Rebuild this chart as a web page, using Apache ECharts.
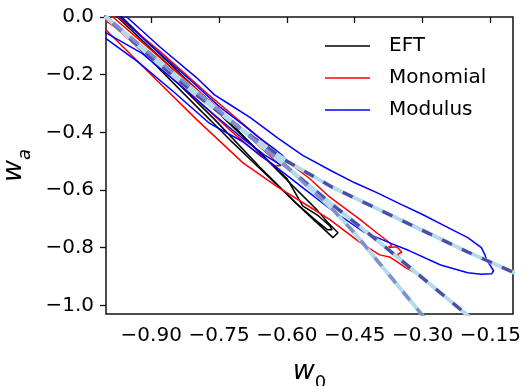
<!DOCTYPE html>
<html>
<head>
<meta charset="utf-8">
<script src="https://cdn.jsdelivr.net/npm/echarts@6/dist/echarts.min.js"></script>
<style>
  html, body { margin: 0; padding: 0; background: #fff; }
  #chart { width: 526px; height: 386px; }
</style>
</head>
<body>
<div id="chart"></div>
<script>
// Tick positions
const w0Ticks = [-0.90, -0.75, -0.60, -0.45, -0.30, -0.15];
const waTicks = [0.0, -0.2, -0.4, -0.6, -0.8, -1.0];

// Model names
const models = ['EFT', 'Monomial', 'Modulus'];

// Confidence contours, [w0, wa] pairs (closed loops)
const eft95 = [
  [-1.03, 0.05], [-0.998, 0.0], [-0.90, -0.152], [-0.80, -0.31], [-0.726, -0.426],
  [-0.65, -0.54], [-0.56, -0.675], [-0.498, -0.765], [-0.487, -0.748],
  [-0.51, -0.712], [-0.534, -0.668], [-0.60, -0.565], [-0.688, -0.426],
  [-0.78, -0.28], [-0.88, -0.13], [-0.965, 0.0], [-1.0, 0.06], [-1.03, 0.05]
];
const eft68 = [
  [-1.0, 0.05], [-0.975, 0.0], [-0.88, -0.14], [-0.78, -0.29], [-0.68, -0.44],
  [-0.60, -0.56], [-0.565, -0.655], [-0.53, -0.69], [-0.505, -0.725], [-0.50, -0.738],
  [-0.51, -0.738], [-0.54, -0.70], [-0.58, -0.645], [-0.66, -0.52], [-0.76, -0.355],
  [-0.86, -0.20], [-0.96, -0.05], [-1.03, 0.03], [-1.0, 0.05]
];
const mono95 = [
  [-1.0, 0.05], [-0.973, 0.0], [-0.88, -0.12], [-0.78, -0.26], [-0.675, -0.40],
  [-0.60, -0.50], [-0.55, -0.56], [-0.505, -0.625], [-0.44, -0.70], [-0.40, -0.75],
  [-0.373, -0.783], [-0.368, -0.792], [-0.377, -0.80], [-0.357, -0.797],
  [-0.346, -0.815], [-0.356, -0.824], [-0.345, -0.845], [-0.317, -0.886],
  [-0.335, -0.872], [-0.357, -0.848], [-0.373, -0.832], [-0.395, -0.825],
  [-0.44, -0.78], [-0.505, -0.703], [-0.543, -0.665], [-0.62, -0.59],
  [-0.697, -0.506], [-0.80, -0.355], [-0.90, -0.20], [-1.0, -0.045],
  [-1.04, 0.01], [-1.0, 0.05]
];
const mono68 = [
  [-1.02, 0.04], [-0.985, 0.0], [-0.90, -0.115], [-0.80, -0.25], [-0.72, -0.36],
  [-0.66, -0.45], [-0.628, -0.495], [-0.612, -0.515], [-0.625, -0.517],
  [-0.66, -0.48], [-0.72, -0.40], [-0.80, -0.285], [-0.90, -0.145],
  [-0.98, -0.035], [-1.03, 0.02], [-1.02, 0.04]
];
const mod95 = [
  [-1.01, 0.06], [-0.954, 0.0], [-0.88, -0.105], [-0.80, -0.21], [-0.76, -0.27],
  [-0.73, -0.30], [-0.68, -0.35], [-0.62, -0.42], [-0.565, -0.48], [-0.50, -0.535],
  [-0.45, -0.575], [-0.40, -0.61], [-0.35, -0.648], [-0.30, -0.685], [-0.25, -0.725],
  [-0.20, -0.765], [-0.17, -0.80], [-0.162, -0.825], [-0.158, -0.845],
  [-0.15, -0.862], [-0.143, -0.88], [-0.147, -0.89], [-0.17, -0.892],
  [-0.20, -0.887], [-0.26, -0.86], [-0.33, -0.81], [-0.37, -0.785], [-0.43, -0.745],
  [-0.505, -0.665], [-0.55, -0.61], [-0.62, -0.525], [-0.70, -0.43], [-0.77, -0.37],
  [-0.85, -0.26], [-0.93, -0.155], [-1.0, -0.075], [-1.05, -0.02], [-1.01, 0.06]
];
const mod68 = [
  [-1.02, 0.06], [-0.969, 0.0], [-0.90, -0.10], [-0.82, -0.21], [-0.75, -0.31],
  [-0.70, -0.37], [-0.66, -0.42], [-0.63, -0.455], [-0.61, -0.48], [-0.60, -0.50],
  [-0.603, -0.508], [-0.615, -0.512], [-0.65, -0.478], [-0.70, -0.418],
  [-0.76, -0.34], [-0.84, -0.232], [-0.92, -0.126], [-1.0, -0.055], [-1.05, 0.0],
  [-1.02, 0.06]
];

// Model trajectories in the (w0, wa) plane
const track1 = [
  [-1.02, 0.03], [-1.0, 0.0], [-0.9, -0.14], [-0.8, -0.27], [-0.7, -0.39], [-0.6, -0.50],
  [-0.5, -0.59], [-0.4, -0.665], [-0.3, -0.74], [-0.2, -0.815], [-0.1, -0.885], [-0.05, -0.92]
];
const track2 = [
  [-1.02, 0.03], [-1.0, 0.0], [-0.9, -0.135], [-0.8, -0.265], [-0.7, -0.39], [-0.6, -0.52],
  [-0.5, -0.65], [-0.4, -0.775], [-0.3, -0.905], [-0.2, -1.035], [-0.15, -1.1]
];
const track3 = [
  [-1.02, 0.03], [-1.0, 0.0], [-0.9, -0.13], [-0.8, -0.26], [-0.7, -0.39], [-0.6, -0.52],
  [-0.5, -0.665], [-0.45, -0.75], [-0.4, -0.845], [-0.35, -0.94], [-0.3, -1.035], [-0.27, -1.09]
];

const FONT = 'DejaVu Sans';
const fmt = (v, d) => (v < -1e-9 ? '\u2212' : '') + Math.abs(v).toFixed(d);

function contour(name, color, data) {
  return {
    name: name, type: 'line', data: data, symbol: 'none', smooth: false,
    clip: true, z: 3, silent: true,
    lineStyle: { color: color, width: 1.5 },
    itemStyle: { color: color }
  };
}
function track(data, dark) {
  return [
    {
      type: 'line', data: data, symbol: 'none', clip: true, z: 5, silent: true,
      lineStyle: { color: '#b3dbea', width: 4, type: 'solid', cap: 'butt' }
    },
    {
      type: 'line', data: data, symbol: 'none', clip: true, z: 6, silent: true,
      lineStyle: { color: dark, width: 3.4, type: [11, 11], cap: 'butt' }
    }
  ];
}

const chart = echarts.init(document.getElementById('chart'), null, { renderer: 'canvas' });
chart.setOption({
  animation: false,
  backgroundColor: '#fff',
  grid: {
    left: 106, top: 17, right: 13, bottom: 72,
    outerBoundsMode: 'none', containLabel: false,
    show: true, borderColor: '#111', borderWidth: 1.5, backgroundColor: 'transparent'
  },
  legend: {
    data: models.map(n => ({ name: n, icon: 'rect' })),
    orient: 'vertical',
    left: 325, top: 36, padding: 0,
    itemWidth: 45, itemHeight: 1.5, itemGap: 12,
    textStyle: { fontFamily: FONT, fontSize: 20, color: '#000', lineHeight: 20, padding: [0, 0, 0, 14] }
  },
  xAxis: {
    type: 'value', min: -1.0, max: -0.1,
    name: '{w|w}{s|0}', nameLocation: 'middle', nameGap: 44,
    nameTextStyle: {
      rich: {
        w: { fontFamily: FONT, fontStyle: 'italic', fontSize: 27, lineHeight: 34, verticalAlign: 'top', color: '#000' },
        s: { fontFamily: FONT, fontSize: 18, lineHeight: 34, verticalAlign: 'bottom', color: '#000' }
      }
    },
    axisLine: { show: false },
    splitLine: { show: false },
    axisTick: { show: true, length: 6, lineStyle: { color: '#111', width: 1.3 }, customValues: w0Ticks },
    axisLabel: {
      customValues: w0Ticks, margin: 12,
      fontFamily: FONT, fontSize: 20, color: '#000',
      formatter: v => fmt(v, 2)
    }
  },
  yAxis: {
    type: 'value', min: -1.03, max: 0.0,
    name: '{w|w}{s|a}', nameLocation: 'middle', nameRotate: 90, nameGap: 64,
    nameTextStyle: {
      rich: {
        w: { fontFamily: FONT, fontStyle: 'italic', fontSize: 27, lineHeight: 34, verticalAlign: 'top', color: '#000' },
        s: { fontFamily: FONT, fontStyle: 'italic', fontSize: 18, lineHeight: 34, verticalAlign: 'bottom', color: '#000' }
      }
    },
    axisLine: { show: false },
    splitLine: { show: false },
    axisTick: { show: true, length: 6, lineStyle: { color: '#111', width: 1.3 }, customValues: waTicks },
    axisLabel: {
      customValues: waTicks, margin: 12,
      fontFamily: FONT, fontSize: 20, color: '#000',
      formatter: v => fmt(v, 1)
    }
  },
  series: [
    contour('EFT', '#000000', eft95),
    contour('EFT', '#000000', eft68),
    contour('Monomial', '#ff0000', mono95),
    contour('Monomial', '#ff0000', mono68),
    contour('Modulus', '#0000ff', mod95),
    contour('Modulus', '#0000ff', mod68),
    ...track(track1, '#4d4da3'),
    ...track(track2, '#4d4da3'),
    ...track(track3, '#7d8fcc')
  ]
});
</script>
</body>
</html>
